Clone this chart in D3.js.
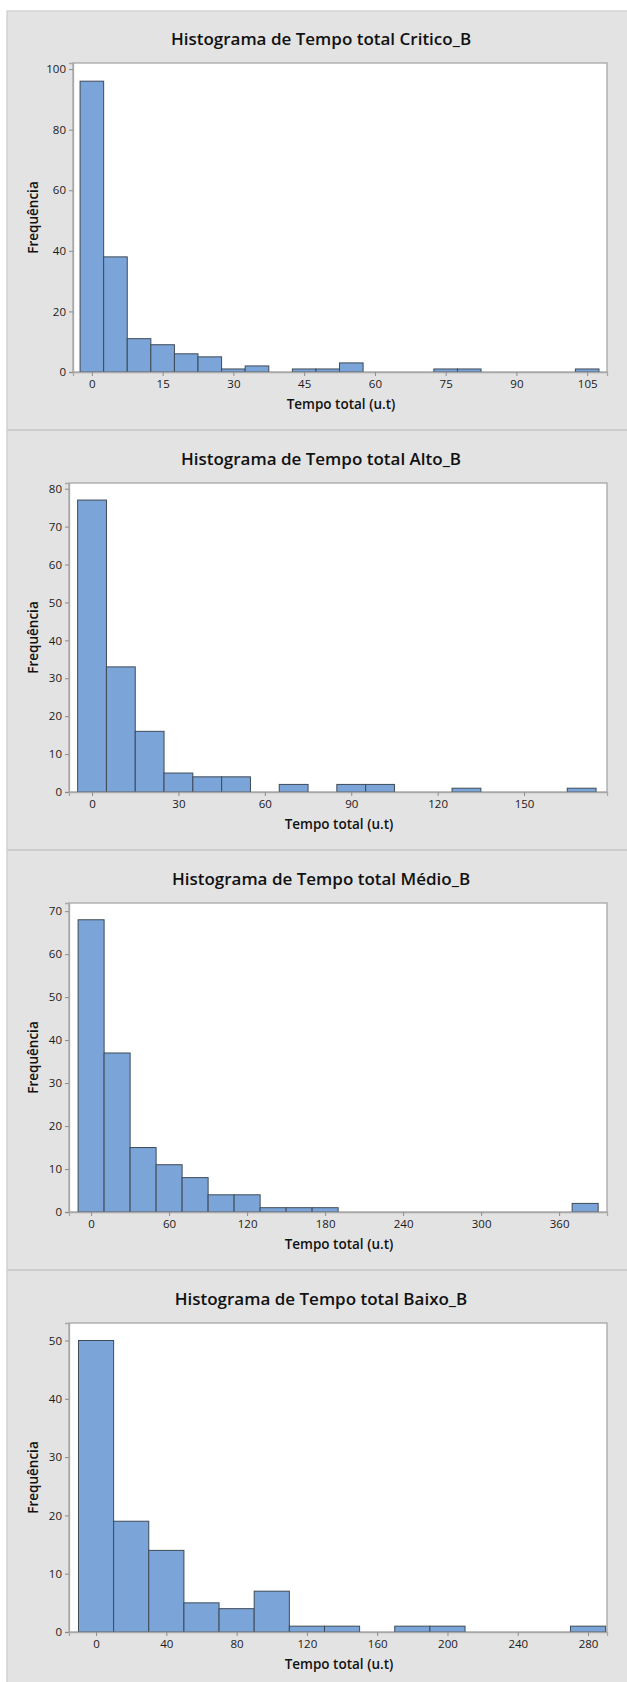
<!DOCTYPE html>
<html>
<head>
<meta charset="utf-8">
<script src="https://cdn.jsdelivr.net/npm/d3@7"></script>
<style>
  body { margin: 0; background: #fff; }
  svg { display: block; }
  .tick text { font-family: "Open Sans", sans-serif; font-size: 11.5px; fill: #1a1a1a; }
</style>
</head>
<body>
<div id="chart"></div>
<script>
// chart titles
var titles = [
  "Histograma de Tempo total Critico_B",
  "Histograma de Tempo total Alto_B",
  "Histograma de Tempo total Médio_B",
  "Histograma de Tempo total Baixo_B"
];

// bin midpoints and counts, one pair per panel
var criticoMid = [0, 5, 10, 15, 20, 25, 30, 35, 40, 45, 50, 55, 60, 65, 70, 75, 80, 85, 90, 95, 100, 105];
var criticoCount = [96, 38, 11, 9, 6, 5, 1, 2, 0, 1, 1, 3, 0, 0, 0, 1, 1, 0, 0, 0, 0, 1];

var altoMid = [0, 10, 20, 30, 40, 50, 60, 70, 80, 90, 100, 110, 120, 130, 140, 150, 160, 170];
var altoCount = [77, 33, 16, 5, 4, 4, 0, 2, 0, 2, 2, 0, 0, 1, 0, 0, 0, 1];

var medioMid = [0, 20, 40, 60, 80, 100, 120, 140, 160, 180, 200, 220, 240, 260, 280, 300, 320, 340, 360, 380];
var medioCount = [68, 37, 15, 11, 8, 4, 4, 1, 1, 1, 0, 0, 0, 0, 0, 0, 0, 0, 0, 2];

var baixoMid = [0, 20, 40, 60, 80, 100, 120, 140, 160, 180, 200, 220, 240, 260, 280];
var baixoCount = [50, 19, 14, 5, 4, 7, 1, 1, 0, 1, 1, 0, 0, 0, 1];

var binWidths = [5, 10, 20, 20];

// axis ticks
var criticoXTicks = [0, 15, 30, 45, 60, 75, 90, 105];
var altoXTicks = [0, 30, 60, 90, 120, 150];
var medioXTicks = [0, 60, 120, 180, 240, 300, 360];
var baixoXTicks = [0, 40, 80, 120, 160, 200, 240, 280];

var criticoYTicks = [0, 20, 40, 60, 80, 100];
var altoYTicks = [0, 10, 20, 30, 40, 50, 60, 70, 80];
var medioYTicks = [0, 10, 20, 30, 40, 50, 60, 70];
var baixoYTicks = [0, 10, 20, 30, 40, 50];

// axis ranges
var xDomains = [[-4.0, 109.2], [-8.0, 178.8], [-17, 396.8], [-15.4, 290.8]];
var yDomains = [[0, 102], [0, 81.5], [0, 71.9], [0, 53]];

var panels = [
  { mid: criticoMid, count: criticoCount, xt: criticoXTicks, yt: criticoYTicks },
  { mid: altoMid, count: altoCount, xt: altoXTicks, yt: altoYTicks },
  { mid: medioMid, count: medioCount, xt: medioXTicks, yt: medioYTicks },
  { mid: baixoMid, count: baixoCount, xt: baixoXTicks, yt: baixoYTicks }
];

var W = 627, H = 1682;
var panelTops = [10, 430, 850, 1270];
var plotLefts = [73, 69, 69, 69];
var plotRight = 607;

var svg = d3.select("#chart").append("svg")
  .attr("width", W)
  .attr("height", H);

// grey page area
svg.append("rect")
  .attr("x", 7).attr("y", 11)
  .attr("width", W).attr("height", H)
  .attr("fill", "#e3e3e3")
  .attr("stroke", "#cbcbcb")
  .attr("stroke-width", 1.2);

panels.forEach(function (p, i) {
  var top = panelTops[i];
  var left = plotLefts[i];
  var plotTop = top + 53, plotBottom = top + 362;

  // separator between panels
  if (i > 0) {
    svg.append("line")
      .attr("x1", 7).attr("x2", W)
      .attr("y1", top).attr("y2", top)
      .attr("stroke", "#cdcdcd")
      .attr("stroke-width", 2);
  }

  svg.append("text")
    .attr("x", 321)
    .attr("y", top + 29)
    .attr("dy", "0.35em")
    .attr("text-anchor", "middle")
    .attr("font-family", "Open Sans, sans-serif")
    .attr("font-weight", 600)
    .attr("font-size", "17px")
    .attr("fill", "#111")
    .text(titles[i]);

  var x = d3.scaleLinear().domain(xDomains[i]).range([left, plotRight]);
  var y = d3.scaleLinear().domain(yDomains[i]).range([plotBottom, plotTop]);

  // plot area
  svg.append("rect")
    .attr("x", left).attr("y", plotTop)
    .attr("width", plotRight - left).attr("height", plotBottom - plotTop)
    .attr("fill", "#fff")
    .attr("stroke", "#a8a8a8")
    .attr("stroke-width", 1.3);

  var bw = binWidths[i];
  var rows = p.mid.map(function (m, k) { return { m: m, c: p.count[k] }; });

  svg.append("g").selectAll("rect")
    .data(rows)
    .enter()
    .append("rect")
    .attr("x", function (d) { return x(d.m - bw / 2); })
    .attr("width", function (d) { return x(d.m + bw / 2) - x(d.m - bw / 2); })
    .attr("y", function (d) { return y(d.c); })
    .attr("height", function (d) { return y(0) - y(d.c); })
    .attr("fill", "#7ba5d9")
    .attr("stroke", "#3e4a57")
    .attr("stroke-width", 1);

  var gx = svg.append("g")
    .attr("transform", "translate(0," + plotBottom + ")")
    .call(d3.axisBottom(x).tickValues(p.xt).tickSize(4).tickPadding(4));
  gx.select(".domain").attr("stroke", "#a8a8a8").attr("stroke-width", 1.3);
  gx.selectAll(".tick line").attr("stroke", "#8c8c8c");

  var gy = svg.append("g")
    .attr("transform", "translate(" + left + ",0)")
    .call(d3.axisLeft(y).tickValues(p.yt).tickSize(4).tickPadding(3));
  gy.select(".domain").attr("stroke", "#a8a8a8").attr("stroke-width", 1.3);
  gy.selectAll(".tick line").attr("stroke", "#8c8c8c");

  // axis titles
  svg.append("text")
    .attr("x", (left + plotRight) / 2 + 1)
    .attr("y", top + 394)
    .attr("dy", "0.35em")
    .attr("text-anchor", "middle")
    .attr("font-family", "Open Sans, sans-serif")
    .attr("font-weight", 600)
    .attr("font-size", "13.5px")
    .attr("fill", "#111")
    .text("Tempo total (u.t)");

  svg.append("text")
    .attr("transform", "translate(33," + (plotTop + plotBottom) / 2 + ") rotate(-90)")
    .attr("dy", "0.35em")
    .attr("text-anchor", "middle")
    .attr("font-family", "Open Sans, sans-serif")
    .attr("font-weight", 600)
    .attr("font-size", "13.5px")
    .attr("fill", "#111")
    .text("Frequência");
});
</script>
</body>
</html>
